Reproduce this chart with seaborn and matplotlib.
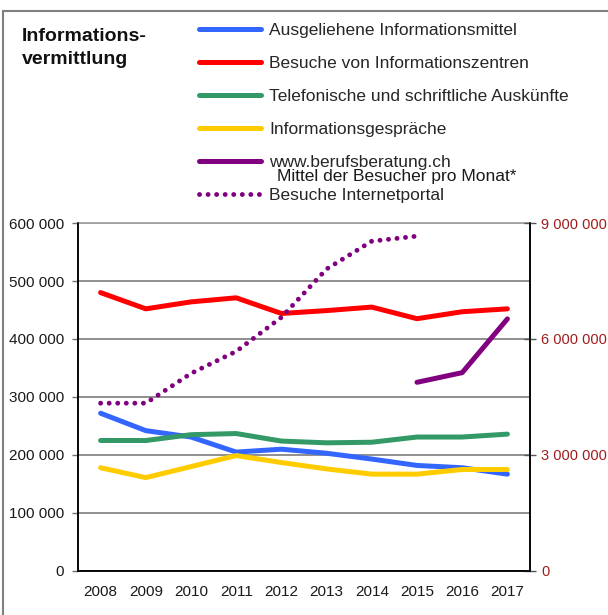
import numpy as np
import pandas as pd
import matplotlib.pyplot as plt
import matplotlib.ticker as mticker
from matplotlib.lines import Line2D
from matplotlib.patches import Rectangle
import seaborn as sns

# Data
years = [2008, 2009, 2010, 2011, 2012, 2013, 2014, 2015, 2016, 2017]
ausgeliehen = [272000, 242000, 231000, 205000, 210000, 203000, 193000, 182000, 178000, 167000]
besuche_zentren = [480000, 452000, 464000, 471000, 444000, 449000, 455000, 435000, 447000, 452000]
telefonisch = [225000, 225000, 235000, 237000, 224000, 221000, 222000, 231000, 231000, 236000]
gespraeche = [178000, 161000, 180000, 199000, 187000, 176000, 167000, 167000, 175000, 175000]

web_years = [2015, 2016, 2017]
web_besucher = [4880000, 5130000, 6520000]
portal_years = [2008, 2009, 2010, 2011, 2012, 2013, 2014, 2015]
portal_besuche = [4340000, 4340000, 5110000, 5680000, 6560000, 7810000, 8530000, 8660000]

labels = ["Ausgeliehene Informationsmittel", "Besuche von Informationszentren",
          "Telefonische und schriftliche Auskünfte", "Informationsgespräche",
          "www.berufsberatung.ch", "Besuche Internetportal"]
colors = ["#3366ff", "#ff0000", "#339966", "#ffcc00", "#800080", "#800080"]

sns.set_theme(style="white")
plt.rcParams["font.family"] = ["Liberation Sans", "DejaVu Sans"]

fig = plt.figure(figsize=(6.08, 6.15), dpi=100)
ax = fig.add_axes([78 / 608, 44 / 615, 452 / 608, 348 / 615])
ax2 = ax.twinx()

lw = 3.6
dots = (0, (0.01, 1.75))
left_series = [ausgeliehen, besuche_zentren, telefonisch, gespraeche]
for vals, c in zip(left_series, colors[:4]):
    sns.lineplot(x=years, y=vals, ax=ax, color=c, linewidth=lw, solid_capstyle="round",
                 solid_joinstyle="round")

sns.lineplot(x=web_years, y=web_besucher, ax=ax2, color=colors[4], linewidth=lw,
             solid_capstyle="round")
sns.lineplot(x=portal_years, y=portal_besuche, ax=ax2, color=colors[5], linewidth=3.5,
             linestyle=dots, dash_capstyle="round")

fmt = mticker.FuncFormatter(lambda v, p: f"{int(v):,}".replace(",", " "))

# left axis
ax.set_xlim(2007.5, 2017.5)
ax.set_ylim(0, 600000)
ax.set_yticks(np.arange(0, 600001, 100000))
ax.yaxis.set_major_formatter(fmt)
ax.grid(axis="y", color="#707070", linewidth=1.1)
ax.set_axisbelow(True)
ax.set_xticks(years)
ax.set_xticklabels([str(y) for y in years])
ax.xaxis.set_minor_locator(mticker.FixedLocator(np.arange(2007.5, 2018, 1)))
ax.tick_params(axis="x", which="major", length=0, pad=10, labelsize=11, labelcolor="#1a1a1a")
ax.tick_params(axis="x", which="minor", length=4, width=1, color="#a0a0a0", direction="out")
ax.tick_params(axis="y", left=True, length=4, width=1, color="#707070", labelsize=11,
               labelcolor="#1a1a1a", pad=6)
ax.set_xlabel("")
ax.set_ylabel("")

# right axis
ax2.set_ylim(0, 9000000)
ax2.set_yticks([0, 3000000, 6000000, 9000000])
ax2.yaxis.set_major_formatter(fmt)
ax2.tick_params(axis="y", right=True, length=8, width=1, direction="inout", color="#555555",
                labelsize=10.5, labelcolor="#a01c1c", pad=4)
ax2.set_ylabel("")

for a in (ax, ax2):
    a.spines["top"].set_visible(False)
    for s in ("left", "right", "bottom"):
        a.spines[s].set_color("black")
        a.spines[s].set_linewidth(1.1)
ax.spines["top"].set_visible(True)
ax.spines["top"].set_color("#a0a0a0")

# title
fig.text(22 / 608, 1 - 48 / 615, "Informations-\nvermittlung", fontsize=14, fontweight="bold",
         va="center", ha="left", linespacing=1.4, color="#111111")

# legend
handles = [Line2D([], [], color=c, linewidth=lw) for c in colors[:5]]
handles.append(Line2D([], [], color=colors[5], linewidth=3.5, linestyle=dots,
                      dash_capstyle="round"))
fig.legend(handles, labels, loc="upper left", bbox_to_anchor=(192 / 608, 1 - 16 / 615),
           frameon=False, fontsize=12.5, handlelength=3.6, handletextpad=0.45,
           labelspacing=1.025, borderaxespad=0)
fig.text(277 / 608, 1 - 176 / 615, "Mittel der Besucher pro Monat*", fontsize=12.5,
         va="center", ha="left", color="#1a1a1a")

# figure frame
fig.add_artist(Rectangle((3 / 608, -0.1), 1.2, (615 - 11) / 615 + 0.1,
                         transform=fig.transFigure, fill=False, edgecolor="#808080",
                         linewidth=1.5, clip_on=False))

fig.savefig("out.png", dpi=100)
